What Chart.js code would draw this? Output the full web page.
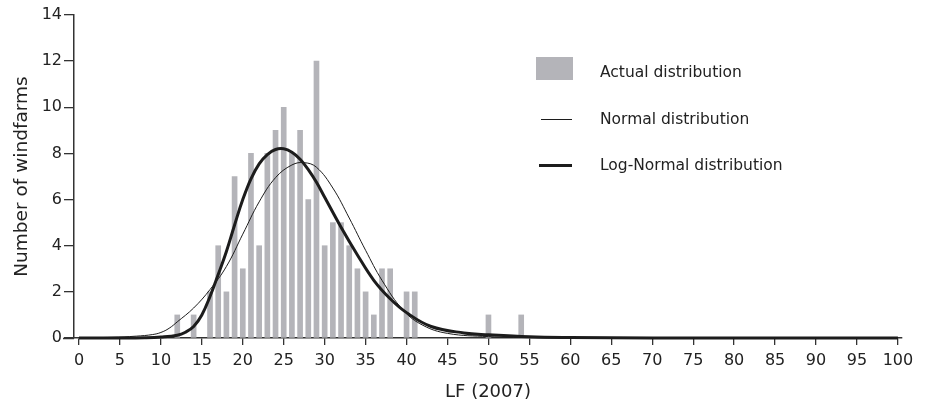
<!DOCTYPE html>
<html>
<head>
<meta charset="utf-8">
<script src="https://cdn.jsdelivr.net/npm/chart.js@4/dist/chart.umd.min.js"></script>
<style>
    html, body { margin: 0; padding: 0; background: #fff; }
    #wrap { width: 928px; height: 408px; }
</style>
</head>
<body>
<div id="wrap"><canvas id="lfChart"></canvas></div>
<script>
// actual distribution: LF bins and number of windfarms
const lfBins = [12, 14, 16, 17, 18, 19, 20, 21, 22, 23, 24, 25, 26, 27, 28, 29, 30,
    31, 32, 33, 34, 35, 36, 37, 38, 40, 41, 50, 54];
const farmCounts = [1, 1, 2, 4, 2, 7, 3, 8, 4, 8, 9, 10, 8, 9, 6, 12, 4,
    5, 5, 4, 3, 2, 1, 3, 3, 2, 2, 1, 1];

// fitted curves
const normalX = [0, 4, 7, 9, 10, 11, 12, 14, 16, 18, 20, 22, 24, 26, 27.5, 29,
    31, 33, 35, 37, 39.6, 42, 45, 50, 55, 60, 70, 100];
const normalY = [0.01, 0.03, 0.08, 0.15, 0.24, 0.42, 0.7, 1.3, 2.1, 3.1, 4.5, 5.9,
    6.95, 7.5, 7.6, 7.4, 6.5, 5.2, 3.8, 2.5, 1.2, 0.55, 0.2, 0.06, 0.02, 0.01, 0, 0];

const logNormalX = [0, 5, 8, 10, 12, 13, 14, 15, 16, 17, 18, 19, 20, 21, 22, 23, 24, 25,
    26, 27, 28, 29, 30, 32, 34, 36, 38, 40, 43, 47, 50, 55, 60, 70, 100];
const logNormalY = [0, 0, 0.01, 0.04, 0.12, 0.25, 0.5, 1.0, 1.8, 2.75, 3.75, 4.9, 6.0,
    6.9, 7.55, 7.95, 8.17, 8.2, 8.05, 7.75, 7.3, 6.75, 6.1, 4.8, 3.6, 2.5, 1.7, 1.1,
    0.5, 0.22, 0.14, 0.05, 0.02, 0, 0];

const xTicks = [0, 5, 10, 15, 20, 25, 30, 35, 40, 45, 50, 55, 60, 65, 70, 75, 80, 85, 90, 95, 100];
const legendLabels = ["Actual distribution", "Normal distribution", "Log-Normal distribution"];

const barColor = "#b4b4b9";
const lineColor = "#1c1c1c";
const axisColor = "#333";
const fontFamily = "'DejaVu Sans', sans-serif";

const toPoints = (xs, ys) => xs.map((x, i) => ({ x: x, y: ys[i] }));

// legend drawn inside the plot, top right
const legendPlugin = {
    id: "insideLegend",
    afterDraw(chart) {
        const ctx = chart.ctx;
        ctx.save();
        ctx.fillStyle = barColor;
        ctx.fillRect(536, 57, 37, 23);
        ctx.strokeStyle = lineColor;
        ctx.lineWidth = 1;
        ctx.beginPath();
        ctx.moveTo(541, 119.5);
        ctx.lineTo(572, 119.5);
        ctx.stroke();
        ctx.lineWidth = 3;
        ctx.beginPath();
        ctx.moveTo(539, 165.5);
        ctx.lineTo(572, 165.5);
        ctx.stroke();
        ctx.fillStyle = "#222";
        ctx.font = "15.5px " + fontFamily;
        ctx.textBaseline = "middle";
        ctx.fillText(legendLabels[0], 600, 73);
        ctx.fillText(legendLabels[1], 600, 120);
        ctx.fillText(legendLabels[2], 600, 166);
        // x axis line runs a little left of the y axis
        const area = chart.chartArea;
        ctx.strokeStyle = axisColor;
        ctx.lineWidth = 1.5;
        ctx.beginPath();
        ctx.moveTo(63, area.bottom + 0.5);
        ctx.lineTo(area.left, area.bottom + 0.5);
        ctx.stroke();
        ctx.restore();
    },
};

new Chart(document.getElementById("lfChart"), {
    data: {
        datasets: [
            {
                type: "line",
                label: legendLabels[2],
                data: toPoints(logNormalX, logNormalY),
                borderColor: lineColor,
                borderWidth: 3,
                pointRadius: 0,
                tension: 0.4,
                clip: false,
            },
            {
                type: "line",
                label: legendLabels[1],
                data: toPoints(normalX, normalY),
                borderColor: lineColor,
                borderWidth: 1,
                pointRadius: 0,
                tension: 0.4,
                clip: false,
            },
            {
                type: "bar",
                label: legendLabels[0],
                data: toPoints(lfBins, farmCounts),
                backgroundColor: barColor,
                borderWidth: 0,
                barThickness: 5,
            },
        ],
    },
    options: {
        responsive: true,
        maintainAspectRatio: false,
        animation: false,
        layout: {
            padding: { left: 0, top: 15, right: 26, bottom: 0 },
        },
        plugins: {
            legend: { display: false },
            tooltip: { enabled: false },
        },
        scales: {
            x: {
                type: "linear",
                offset: false,
                min: -0.61,
                max: 100.5,
                afterBuildTicks: function (scale) {
                    scale.ticks = xTicks.map((v) => ({ value: v }));
                },
                afterFit: function (scale) {
                    scale.height = 70;
                },
                grid: {
                    offset: false,
                    drawOnChartArea: false,
                    drawTicks: true,
                    tickLength: 7,
                    color: axisColor,
                    lineWidth: 1.3,
                },
                border: { color: axisColor, width: 1.5 },
                ticks: {
                    color: "#222",
                    padding: 6,
                    maxRotation: 0,
                    autoSkip: false,
                    font: { family: fontFamily, size: 16 },
                },
                title: {
                    display: true,
                    text: "LF (2007)",
                    color: "#222",
                    padding: { top: 0, bottom: 5 },
                    font: { family: fontFamily, size: 18 },
                },
            },
            y: {
                min: 0,
                max: 14,
                afterFit: function (scale) {
                    scale.width = 74;
                },
                grid: {
                    drawOnChartArea: false,
                    drawTicks: true,
                    tickLength: 10,
                    color: axisColor,
                    lineWidth: 1.3,
                },
                border: { color: axisColor, width: 1.5 },
                ticks: {
                    stepSize: 2,
                    color: "#222",
                    padding: 2,
                    font: { family: fontFamily, size: 16 },
                },
                title: {
                    display: true,
                    text: "Number of windfarms",
                    color: "#222",
                    padding: { top: 11, bottom: 0 },
                    font: { family: fontFamily, size: 18.5 },
                },
            },
        },
    },
    plugins: [legendPlugin],
});
</script>
</body>
</html>
